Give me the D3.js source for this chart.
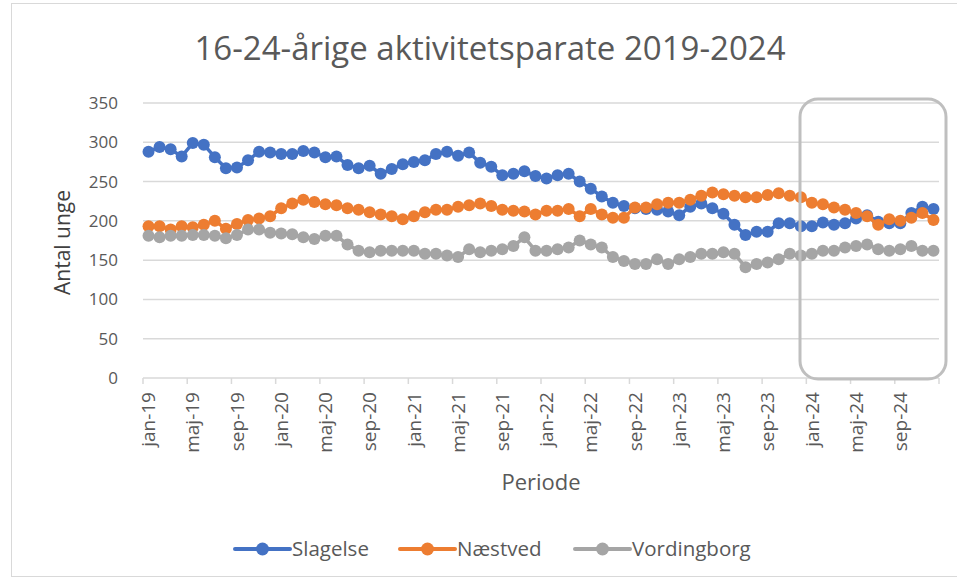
<!DOCTYPE html>
<html>
<head>
<meta charset="utf-8">
<script src="https://cdn.jsdelivr.net/npm/d3@7"></script>
<style>
  body { margin: 0; background: #fff; }
  svg text { font-family: "Open Sans", sans-serif; }
</style>
</head>
<body>
<div id="chart"></div>
<script>
// month labels jan-19 .. dec-24
const monthNames = ["jan","feb","mar","apr","maj","jun","jul","aug","sep","okt","nov","dec"];
const years = ["19","20","21","22","23","24"];
const periods = [];
years.forEach(y => monthNames.forEach(m => periods.push(m + "-" + y)));

const slagelse = [
  288, 294, 291, 282, 299, 297, 281, 267, 268, 277, 288, 287,
  285, 285, 289, 287, 281, 282, 271, 267, 270, 260, 266, 272,
  275, 277, 285, 288, 283, 287, 274, 269, 258, 260, 263, 257,
  254, 258, 260, 250, 241, 231, 223, 219, 216, 215, 214, 212,
  207, 218, 222, 216, 209, 195, 182, 186, 186, 197, 197, 193,
  193, 198, 195, 197, 203, 207, 199, 197, 197, 210, 218, 215
];
const naestved = [
  193, 193, 189, 193, 192, 195, 200, 190, 196, 201, 203, 206,
  216, 222, 227, 224, 221, 220, 216, 214, 211, 208, 206, 202,
  206, 211, 214, 214, 218, 220, 222, 219, 214, 213, 212, 208,
  213, 213, 215, 206, 215, 208, 204, 204, 217, 217, 221, 223,
  223, 227, 232, 236, 234, 232, 230, 230, 233, 235, 232, 230,
  223, 221, 217, 214, 210, 206, 195, 202, 200, 204, 210, 201
];
const vordingborg = [
  181, 179, 181, 181, 182, 182, 181, 178, 182, 189, 189, 185,
  184, 183, 179, 177, 181, 181, 170, 162, 160, 162, 162, 162,
  162, 158, 158, 156, 154, 164, 160, 162, 164, 168, 179, 162,
  162, 164, 166, 175, 170, 166, 154, 149, 145, 145, 151, 145,
  151, 154, 158, 158, 160, 158, 141, 145, 147, 151, 158, 156,
  158, 162, 162, 166, 168, 170, 164, 162, 164, 168, 162, 162
];

const seriesNames = ["Slagelse", "Næstved", "Vordingborg"];
const seriesColors = ["#4472C4", "#ED7D31", "#A5A5A5"];
const yTicks = [0, 50, 100, 150, 200, 250, 300, 350];

const series = [slagelse, naestved, vordingborg].map((vals, i) => ({
  name: seriesNames[i],
  color: seriesColors[i],
  values: vals.map((v, j) => ({ period: periods[j], value: v }))
}));

const width = 957, height = 579;
const plot = { left: 143, right: 939, top: 103, bottom: 378 };

const svg = d3.select("#chart").append("svg")
  .attr("width", width)
  .attr("height", height);

// chart frame
svg.append("rect")
  .attr("x", 11.5).attr("y", 3.5)
  .attr("width", 960).attr("height", 573)
  .attr("fill", "#fff")
  .attr("stroke", "#d9d9d9");

const x = d3.scaleBand()
  .domain(periods)
  .range([plot.left, plot.right])
  .padding(0);

const y = d3.scaleLinear()
  .domain([0, 350])
  .range([plot.bottom, plot.top]);

// gridlines
svg.append("g")
  .selectAll("line")
  .data(yTicks)
  .join("line")
    .attr("x1", plot.left).attr("x2", plot.right)
    .attr("y1", d => y(d)).attr("y2", d => y(d))
    .attr("stroke", "#d9d9d9")
    .attr("stroke-width", 1.5);

// y axis labels
const yAxis = svg.append("g")
  .attr("transform", `translate(${plot.left - 22},0)`)
  .call(d3.axisLeft(y).tickValues(yTicks).tickSize(0));
yAxis.select(".domain").remove();
yAxis.selectAll("text")
  .style("font-family", "'Open Sans', sans-serif")
  .style("font-size", "17px")
  .attr("fill", "#595959");

// x axis: tick marks at category boundaries, labels every 4 months
const labelPeriods = periods.filter((d, i) => i % 4 === 0);
svg.append("g")
  .selectAll("line")
  .data(labelPeriods.concat(["end"]))
  .join("line")
    .attr("x1", d => d === "end" ? plot.right : x(d))
    .attr("x2", d => d === "end" ? plot.right : x(d))
    .attr("y1", plot.bottom).attr("y2", plot.bottom + 6)
    .attr("stroke", "#d9d9d9")
    .attr("stroke-width", 1.5);

svg.append("g")
  .selectAll("text")
  .data(labelPeriods)
  .join("text")
    .attr("transform", d => `translate(${x(d) + x.bandwidth() / 2},392) rotate(-90)`)
    .attr("text-anchor", "end")
    .attr("dy", "0.35em")
    .style("font-size", "19px")
    .attr("fill", "#595959")
    .text(d => d);

// axis titles
svg.append("text")
  .attr("transform", `translate(70,${(plot.top + plot.bottom) / 2 + 2}) rotate(-90)`)
  .attr("text-anchor", "middle")
  .style("font-size", "21px")
  .attr("fill", "#404040")
  .text("Antal unge");

svg.append("text")
  .attr("x", (plot.left + plot.right) / 2)
  .attr("y", 490)
  .attr("text-anchor", "middle")
  .style("font-size", "22px")
  .attr("fill", "#595959")
  .text("Periode");

// title
svg.append("text")
  .attr("x", 490)
  .attr("y", 60)
  .attr("text-anchor", "middle")
  .style("font-size", "33px")
  .attr("fill", "#595959")
  .text("16-24-årige aktivitetsparate 2019-2024");

// lines and markers
const line = d3.line()
  .x(d => x(d.period) + x.bandwidth() / 2)
  .y(d => y(d.value));

const g = svg.append("g")
  .selectAll("g")
  .data(series)
  .join("g");

g.append("path")
  .attr("d", d => line(d.values))
  .attr("fill", "none")
  .attr("stroke", d => d.color)
  .attr("stroke-width", 3.5)
  .attr("stroke-linejoin", "round");

g.selectAll("circle")
  .data(d => d.values.map(v => ({ ...v, color: d.color })))
  .join("circle")
    .attr("cx", d => x(d.period) + x.bandwidth() / 2)
    .attr("cy", d => y(d.value))
    .attr("r", 6)
    .attr("fill", d => d.color);

// highlight box around 2024
svg.append("rect")
  .attr("x", 800).attr("y", 99)
  .attr("width", 146).attr("height", 280)
  .attr("rx", 18).attr("ry", 18)
  .attr("fill", "none")
  .attr("stroke", "#bfbfbf")
  .attr("stroke-width", 3);

// legend
const legendX = [235, 400, 575];
const legend = svg.append("g")
  .selectAll("g")
  .data(series)
  .join("g")
    .attr("transform", (d, i) => `translate(${legendX[i]},549)`);

legend.append("line")
  .attr("x1", 0).attr("x2", 55)
  .attr("stroke", d => d.color)
  .attr("stroke-width", 4)
  .attr("stroke-linecap", "round");
legend.append("circle")
  .attr("cx", 27.5)
  .attr("r", 6.5)
  .attr("fill", d => d.color);
legend.append("text")
  .attr("x", 57)
  .attr("dy", "0.35em")
  .style("font-size", "20.5px")
  .attr("fill", "#595959")
  .text(d => d.name);
</script>
</body>
</html>
